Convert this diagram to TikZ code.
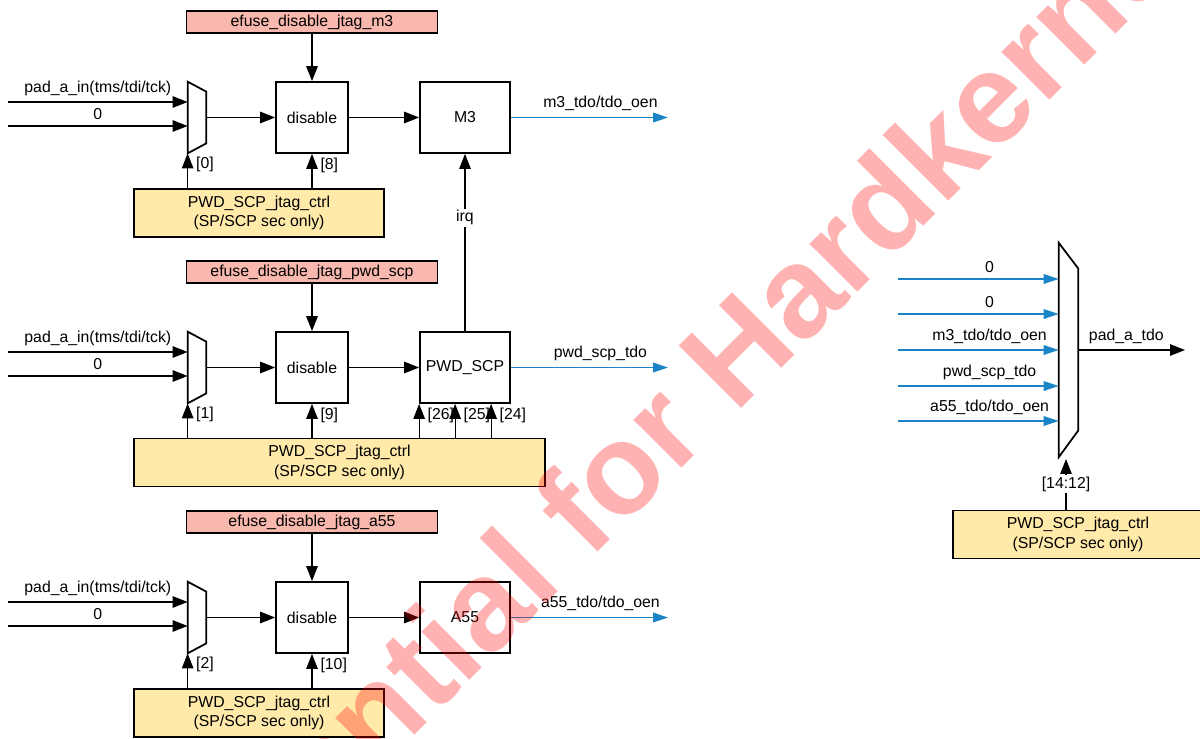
\documentclass[tikz,border=0pt]{standalone}
\usepackage{fontspec}
\setmainfont{Liberation Sans}
\usetikzlibrary{positioning,arrows.meta}
\definecolor{efusered}{RGB}{248,184,174}
\definecolor{ctrlyellow}{RGB}{255,234,170}
\definecolor{tdoblue}{RGB}{26,132,198}
\begin{document}
\begin{tikzpicture}[x=0.02cm,y=-0.02cm,>={Triangle[length=8.5pt,width=6.5pt]},
  every node/.style={font=\fontsize{9}{11}\selectfont},
  efuse/.style={draw,line width=1pt,fill=efusered,minimum width=5.02cm,minimum height=0.44cm,inner sep=0pt},
  blk/.style={draw,line width=1pt,fill=white,minimum width=1.44cm,minimum height=1.42cm,inner sep=0pt},
  core/.style={blk,minimum width=1.8cm},
  ctrl/.style={draw,line width=1pt,fill=ctrlyellow,minimum width=5cm,minimum height=0.96cm,align=center,inner sep=0pt},
  muxbox/.style={minimum width=0.36cm,minimum height=1.42cm,inner sep=0pt},
  mux/.style={draw,line width=1pt,fill=white},
  sig/.style={->,line width=0.7pt},
  tdo/.style={-{Triangle[length=8.5pt,width=5.5pt]},line width=0.7pt,draw=tdoblue},
  sel/.style={right,inner sep=0pt,xshift=4.5pt}]
\useasboundingbox (0,0) rectangle (1200,738);

\node[efuse] (ef1) at (312,22) {efuse\_disable\_jtag\_m3};
\node[blk] (dis1) at (312,117.5) {disable};
\node[core] (m3) at (465,117.5) {M3};
\node[ctrl] (ctl1) at (259,213) {PWD\_SCP\_jtag\_ctrl\\(SP/SCP sec only)};
\node[muxbox] (mux1) at (197,117.5) {};
\draw[mux] (mux1.north west) -- ([yshift=-0.2cm]mux1.north east) -- ([yshift=0.2cm]mux1.south east) -- (mux1.south west) -- cycle;
\coordinate (pa1) at (8,102);
\coordinate (zr1) at (8,126);
\coordinate (to1) at (668,117.5);
\draw[sig] (pa1) -- (pa1 -| mux1.west) node[midway,above] {pad\_a\_in(tms/tdi/tck)};
\draw[sig] (zr1) -- (zr1 -| mux1.west) node[midway,above] {0};
\draw[sig] (mux1) -- (dis1);
\draw[sig] (ef1) -- (dis1);
\draw[sig] (dis1) -- (m3);
\draw[tdo] (m3) -- (to1) node[pos=0.57,above] {m3\_tdo/tdo\_oen};
\draw[sig] (ctl1.north -| mux1.south west) -- (mux1.south west) node[pos=0.67,sel] {[0]};
\draw[sig] (ctl1.north -| dis1.south) -- (dis1) node[pos=0.67,sel] {[8]};

\node[efuse] (ef2) at (312,272) {efuse\_disable\_jtag\_pwd\_scp};
\node[blk] (dis2) at (312,367.5) {disable};
\node[core] (pwd) at (465,367.5) {PWD\_SCP};
\node[ctrl,minimum width=8.22cm] (ctl2) at (339.5,462.5) {PWD\_SCP\_jtag\_ctrl\\(SP/SCP sec only)};
\node[muxbox] (mux2) at (197,367.5) {};
\draw[mux] (mux2.north west) -- ([yshift=-0.2cm]mux2.north east) -- ([yshift=0.2cm]mux2.south east) -- (mux2.south west) -- cycle;
\coordinate (pa2) at (8,352);
\coordinate (zr2) at (8,376);
\coordinate (to2) at (668,367.5);
\path ([xshift=0.72cm]pwd.south west) coordinate (b25) ([xshift=1.44cm]pwd.south west) coordinate (b24);
\draw[sig] (pa2) -- (pa2 -| mux2.west) node[midway,above] {pad\_a\_in(tms/tdi/tck)};
\draw[sig] (zr2) -- (zr2 -| mux2.west) node[midway,above] {0};
\draw[sig] (mux2) -- (dis2);
\draw[sig] (ef2) -- (dis2);
\draw[sig] (dis2) -- (pwd);
\draw[tdo] (pwd) -- (to2) node[pos=0.57,above] {pwd\_scp\_tdo};
\draw[sig] (pwd) -- (m3) node[pos=0.64,fill=white,inner sep=1pt] {irq};
\draw[sig] (ctl2.north -| mux2.south west) -- (mux2.south west) node[pos=0.67,sel] {[1]};
\draw[sig] (ctl2.north -| dis2.south) -- (dis2) node[pos=0.67,sel] {[9]};
\draw[sig] (ctl2.north -| pwd.south west) -- (pwd.south west) node[pos=0.67,sel] {[26]};
\draw[sig] (ctl2.north -| b25) -- (b25) node[pos=0.67,sel] {[25]};
\draw[sig] (ctl2.north -| b24) -- (b24) node[pos=0.67,sel] {[24]};

\node[efuse] (ef3) at (312,522) {efuse\_disable\_jtag\_a55};
\node[blk] (dis3) at (312,617.5) {disable};
\node[core] (a55) at (465,617.5) {A55};
\node[ctrl] (ctl3) at (259,713) {PWD\_SCP\_jtag\_ctrl\\(SP/SCP sec only)};
\node[muxbox] (mux3) at (197,617.5) {};
\draw[mux] (mux3.north west) -- ([yshift=-0.2cm]mux3.north east) -- ([yshift=0.2cm]mux3.south east) -- (mux3.south west) -- cycle;
\coordinate (pa3) at (8,602);
\coordinate (zr3) at (8,626);
\coordinate (to3) at (668,617.5);
\draw[sig] (pa3) -- (pa3 -| mux3.west) node[midway,above] {pad\_a\_in(tms/tdi/tck)};
\draw[sig] (zr3) -- (zr3 -| mux3.west) node[midway,above] {0};
\draw[sig] (mux3) -- (dis3);
\draw[sig] (ef3) -- (dis3);
\draw[sig] (dis3) -- (a55);
\draw[tdo] (a55) -- (to3) node[pos=0.57,above] {a55\_tdo/tdo\_oen};
\draw[sig] (ctl3.north -| mux3.south west) -- (mux3.south west) node[pos=0.67,sel] {[2]};
\draw[sig] (ctl3.north -| dis3.south) -- (dis3) node[pos=0.67,sel] {[10]};

\node[muxbox,minimum width=0.38cm,minimum height=4.28cm] (muxo) at (1068.5,350) {};
\draw[mux] (muxo.north west) -- ([yshift=-0.52cm]muxo.north east) -- ([yshift=0.54cm]muxo.south east) -- (muxo.south west) -- cycle;
\node[ctrl] (ctl4) at (1078,534.5) {PWD\_SCP\_jtag\_ctrl\\(SP/SCP sec only)};
\coordinate (i1) at (898,279);
\coordinate (i2) at (898,314);
\coordinate (i3) at (898,350);
\coordinate (i4) at (898,386);
\coordinate (i5) at (898,421);
\coordinate (pt) at (1185,350);
\coordinate (s4) at (1066,459);
\draw[tdo] (i1) -- (i1 -| muxo.west) node[pos=0.57,above] {0};
\draw[tdo] (i2) -- (i2 -| muxo.west) node[pos=0.57,above] {0};
\draw[tdo] (i3) -- (i3 -| muxo.west) node[pos=0.57,above] {m3\_tdo/tdo\_oen};
\draw[tdo] (i4) -- (i4 -| muxo.west) node[pos=0.57,above] {pwd\_scp\_tdo};
\draw[tdo] (i5) -- (i5 -| muxo.west) node[pos=0.57,above] {a55\_tdo/tdo\_oen};
\draw[sig] (muxo) -- (pt) node[pos=0.45,above] {pad\_a\_tdo};
\draw[sig] (ctl4.north -| s4) -- (s4) node[midway,fill=white,inner sep=1pt] {[14:12]};

\node[rotate=45,anchor=base west,text=red,text opacity=0.3,font=\fontsize{73}{73}\selectfont\bfseries] (wm) at (36,1114) {Confidential for Hardkernel};
\end{tikzpicture}
\end{document}
